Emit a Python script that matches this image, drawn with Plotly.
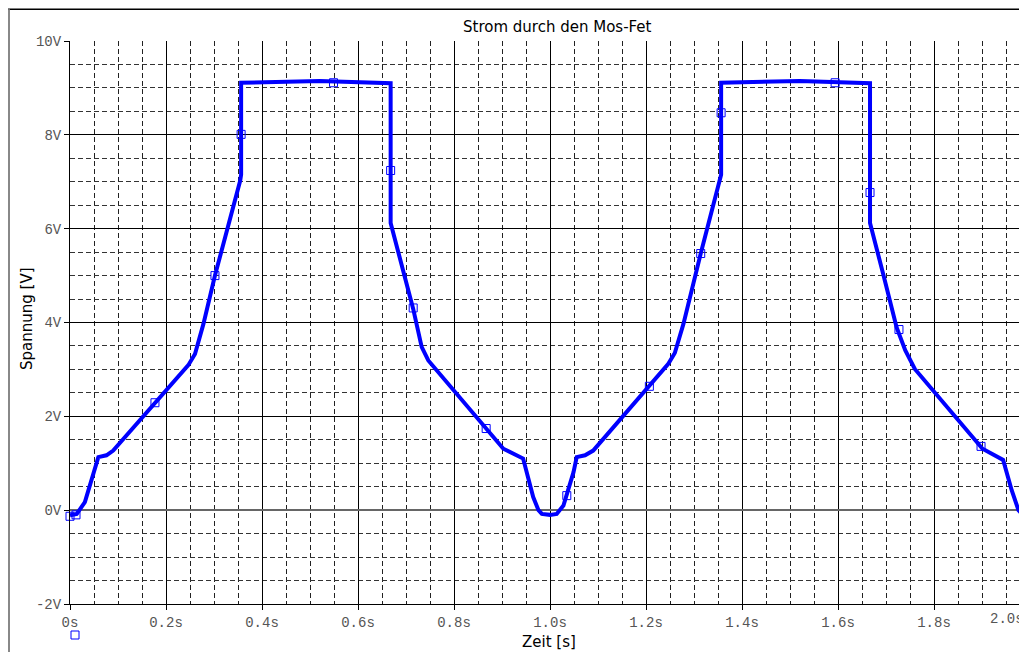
import plotly.graph_objects as go

# ---- data ----
t_line = [0.000, 0.014, 0.031, 0.045, 0.059, 0.076, 0.090, 0.2465, 0.2604, 0.278, 0.302, 0.3545, 0.3565,
          0.3565, 0.45, 0.52, 0.668,
          0.668, 0.715, 0.7326, 0.7465, 0.9028, 0.944, 0.955, 0.965, 0.976, 0.983, 1.000,
          1.014, 1.028, 1.049, 1.0556, 1.073, 1.090, 1.2465, 1.260, 1.278, 1.314, 1.354, 1.3565,
          1.3565, 1.45, 1.52, 1.6667,
          1.6667, 1.694, 1.722, 1.740, 1.760, 1.901, 1.944, 1.962, 1.976, 1.983, 1.995]
v_line = [-0.11, -0.08, 0.17, 0.67, 1.13, 1.17, 1.27, 3.09, 3.33, 3.97, 5.00, 7.02, 7.15,
          9.11, 9.14, 9.15, 9.10,
          6.12, 4.29, 3.48, 3.19, 1.31, 1.10, 0.70, 0.28, 0.00, -0.08, -0.10,
          -0.08, 0.10, 0.81, 1.13, 1.17, 1.27, 3.12, 3.35, 3.97, 5.47, 7.08, 7.15,
          9.11, 9.14, 9.15, 9.10,
          6.12, 5.04, 3.90, 3.41, 3.01, 1.31, 1.07, 0.42, 0.00, -0.08, -0.10]

t_mark = [0.000, 0.0125, 0.177, 0.302, 0.3565, 0.549, 0.668, 0.715, 0.867, 1.035,
          1.207, 1.314, 1.3565, 1.594, 1.6667, 1.727, 1.898]
v_mark = [-0.13, -0.10, 2.29, 5.00, 8.01, 9.11, 7.24, 4.31, 1.74, 0.31,
          2.64, 5.47, 8.47, 9.11, 6.77, 3.85, 1.36]

x_tickvals = [0.0, 0.2, 0.4, 0.6, 0.8, 1.0, 1.2, 1.4, 1.6, 1.8]
x_ticktext = ["0s", "0.2s", "0.4s", "0.6s", "0.8s", "1.0s", "1.2s", "1.4s", "1.6s", "1.8s"]
x_last_label = "2.0s"
y_tickvals = [-2, 0, 2, 4, 6, 8, 10]
y_ticktext = ["-2V", "0V", "2V", "4V", "6V", "8V", "10V"]

title_text = "Strom durch den Mos-Fet"
x_title = "Zeit [s]"
y_title = "Spannung [V]"

# ---- layout geometry (figure pixels; page adds an 8px body margin) ----
W, H = 1019, 644
L, R, T, B = 62, 0, 33, 48
PW, PH = W - L - R, H - T - B
PX_PER_S = 480.0


def px_x(p):
    return (p - L) / PW


def px_y(p):
    return (H - B - p) / PH


BLUE = "#0000ff"
TICKFONT = dict(family="Liberation Mono", size=14, color="#555555")
LABELFONT = dict(family="DejaVu Sans", size=15, color="#000000")

fig = go.Figure()
fig.add_trace(go.Scatter(x=t_line, y=v_line, mode="lines",
                         line=dict(color=BLUE, width=4), showlegend=False,
                         hoverinfo="skip"))
fig.add_trace(go.Scatter(x=t_mark, y=v_mark, mode="markers", name="",
                         marker=dict(symbol="square-open", size=8, color=BLUE,
                                     line=dict(width=1, color=BLUE)),
                         cliponaxis=False, showlegend=True))

fig.update_layout(
    width=W, height=H,
    margin=dict(l=L, r=R, t=T, b=B, autoexpand=False),
    paper_bgcolor="white", plot_bgcolor="white",
    showlegend=True,
    legend=dict(x=px_x(47), y=px_y(627), xanchor="left", yanchor="middle",
                bgcolor="rgba(0,0,0,0)", font=dict(size=10), itemwidth=30),
    xaxis=dict(range=[0, PW / PX_PER_S], tickvals=x_tickvals, ticktext=x_ticktext,
               showgrid=True, gridcolor="#000000", gridwidth=1,
               showline=True, linecolor="#000000", linewidth=1,
               ticks="outside", ticklen=5, tickcolor="#000000",
               zeroline=False, tickfont=TICKFONT,
               minor=dict(dtick=0.05, tick0=0, showgrid=True, gridcolor="#222222",
                          gridwidth=1, griddash="5px,3px", ticks="")),
    yaxis=dict(range=[-2, 10], tickvals=y_tickvals, ticktext=y_ticktext,
               showgrid=True, gridcolor="#000000", gridwidth=1,
               showline=True, linecolor="#000000", linewidth=1,
               ticks="outside", ticklen=5, tickcolor="#000000",
               zeroline=True, zerolinecolor="#666666", zerolinewidth=1.5,
               tickfont=TICKFONT,
               minor=dict(dtick=0.5, tick0=0, showgrid=True, gridcolor="#333333",
                          gridwidth=1, griddash="5px,3px", ticks="")),
    annotations=[
        dict(text=title_text, xref="paper", yref="paper", x=px_x(549.5), y=px_y(19),
             xanchor="center", yanchor="middle", showarrow=False, font=LABELFONT),
        dict(text=x_title, xref="paper", yref="paper", x=px_x(541), y=px_y(634),
             xanchor="center", yanchor="middle", showarrow=False, font=LABELFONT),
        dict(text=y_title, xref="paper", yref="paper", x=px_x(19), y=px_y(311),
             xanchor="center", yanchor="middle", showarrow=False, font=LABELFONT,
             textangle=-90),
        dict(text=x_last_label, xref="paper", yref="paper", x=px_x(W - 1), y=px_y(611),
             xanchor="right", yanchor="middle", showarrow=False, font=TICKFONT),
    ],
    shapes=[
        dict(type="line", xref="paper", yref="paper", x0=px_x(0), x1=px_x(W),
             y0=px_y(1.3), y1=px_y(1.3), line=dict(color="#000000", width=1.5)),
        dict(type="line", xref="paper", yref="paper", x0=px_x(1), x1=px_x(1),
             y0=px_y(1.3), y1=px_y(H), line=dict(color="#888888", width=2)),
    ],
)

fig.write_html("out.html")
